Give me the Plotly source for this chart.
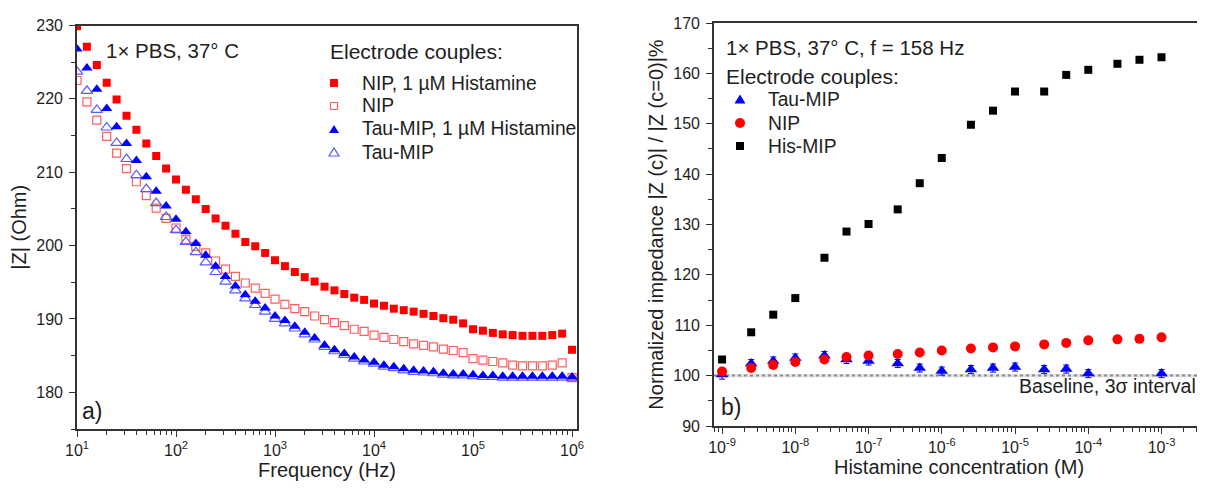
import plotly.graph_objects as go

# ---------------- data: panel a) ----------------
freq_hz = [10, 12.59, 15.85, 19.95, 25.12, 31.62, 39.81, 50.12, 63.10, 79.43,
           100, 125.9, 158.5, 199.5, 251.2, 316.2, 398.1, 501.2, 631.0, 794.3,
           1000, 1259, 1585, 1995, 2512, 3162, 3981, 5012, 6310, 7943,
           1.0e4, 1.259e4, 1.585e4, 1.995e4, 2.512e4, 3.162e4, 3.981e4, 5.012e4, 6.310e4, 7.943e4,
           1.0e5, 1.259e5, 1.585e5, 1.995e5, 2.512e5, 3.162e5, 3.981e5, 5.012e5, 6.310e5, 7.943e5,
           1.0e6]

nip_histamine = [229.9, 227.1, 224.6, 222.2, 219.9, 217.7, 215.8, 213.9, 212.2, 210.5,
                 209.0, 207.6, 206.3, 205.0, 203.7, 202.7, 201.6, 200.5, 199.9, 199.0,
                 198.0, 197.2, 196.4, 195.7, 195.1, 194.4, 193.9, 193.4, 192.9, 192.6,
                 192.1, 191.8, 191.4, 191.2, 191.0, 190.7, 190.4, 190.1, 189.9, 189.4,
                 188.6, 188.4, 188.1, 187.9, 187.8, 187.7, 187.7, 187.7, 187.8, 188.0,
                 185.8]

nip_blank = [222.5, 219.6, 217.1, 214.9, 212.6, 210.5, 208.7, 206.8, 205.1, 203.7,
             202.4, 200.8, 199.9, 199.0, 197.9, 196.8, 195.8, 194.9, 194.2, 193.5,
             192.7, 192.0, 191.4, 191.0, 190.4, 189.9, 189.5, 189.1, 188.6, 188.3,
             187.8, 187.5, 187.2, 186.9, 186.6, 186.4, 186.2, 185.9, 185.7, 185.4,
             184.6, 184.4, 184.2, 184.0, 183.7, 183.6, 183.6, 183.6, 183.7, 184.0,
             182.0]

tau_histamine = [226.8, 224.2, 221.3, 218.7, 216.2, 213.9, 211.6, 209.4, 207.4, 205.4,
                 203.6, 201.9, 200.3, 198.7, 197.2, 195.8, 194.5, 193.3, 192.4, 191.5,
                 190.4, 189.8, 189.0, 188.2, 187.4, 186.4, 185.8, 185.3, 184.8, 184.4,
                 184.1, 183.7, 183.5, 183.2, 183.0, 182.9, 182.8, 182.6, 182.5, 182.5,
                 182.4, 182.3, 182.3, 182.2, 182.2, 182.2, 182.2, 182.2, 182.2, 182.2,
                 182.1]

tau_blank = [223.7, 221.1, 218.5, 216.1, 214.0, 211.8, 209.6, 207.7, 205.8, 203.9,
             202.1, 200.5, 199.1, 197.7, 196.4, 195.1, 193.9, 192.8, 191.9, 191.0,
             190.0, 189.4, 188.7, 187.9, 187.2, 186.2, 185.6, 185.1, 184.6, 184.2,
             183.9, 183.5, 183.3, 183.0, 182.8, 182.7, 182.6, 182.4, 182.3, 182.3,
             182.2, 182.1, 182.1, 182.0, 182.0, 182.0, 182.0, 182.0, 182.0, 182.0,
             181.9]

# ---------------- data: panel b) ----------------
conc_M = [1e-9, 2.5e-9, 5e-9, 1e-8, 2.5e-8, 5e-8, 1e-7, 2.5e-7, 5e-7, 1e-6,
          2.5e-6, 5e-6, 1e-5, 2.5e-5, 5e-5, 1e-4, 2.5e-4, 5e-4, 1e-3]
his_mip = [103.2, 108.6, 112.1, 115.4, 123.4, 128.6, 130.1, 133.0, 138.2, 143.2,
           149.8, 152.6, 156.4, 156.4, 159.7, 160.7, 161.9, 162.7, 163.2]
nip_norm = [100.8, 101.5, 102.1, 102.7, 103.2, 103.7, 104.0, 104.3, 104.6, 105.0,
            105.4, 105.6, 105.8, 106.2, 106.5, 107.0, 107.2, 107.3, 107.6]
conc_tau = [1e-9, 2.5e-9, 5e-9, 1e-8, 2.5e-8, 5e-8, 1e-7, 2.5e-7, 5e-7, 1e-6,
            2.5e-6, 5e-6, 1e-5, 2.5e-5, 5e-5, 1e-4, 1e-3]
tau_norm = [100.2, 102.4, 102.9, 103.5, 104.0, 103.2, 102.9, 102.4, 101.5, 100.9,
            101.2, 101.5, 101.7, 101.2, 101.3, 100.4, 100.4]
tau_err = [0.9, 0.8, 0.8, 0.8, 0.8, 0.8, 0.8, 0.8, 0.8, 0.8,
           0.8, 0.8, 0.8, 0.8, 0.8, 0.8, 0.8]

baseline_lo, baseline_hi = 99.7, 100.3

left_xticks = [1e1, 1e2, 1e3, 1e4, 1e5, 1e6]
left_xtext = ["10<sup>1</sup>", "10<sup>2</sup>", "10<sup>3</sup>",
              "10<sup>4</sup>", "10<sup>5</sup>", "10<sup>6</sup>"]
right_xticks = [1e-9, 1e-8, 1e-7, 1e-6, 1e-5, 1e-4, 1e-3]
right_xtext = ["10<sup>-9</sup>", "10<sup>-8</sup>", "10<sup>-7</sup>", "10<sup>-6</sup>",
               "10<sup>-5</sup>", "10<sup>-4</sup>", "10<sup>-3</sup>"]

# ---------------- styling ----------------
FONT = "Liberation Sans, Arial, sans-serif"
TXT = "#1e1e1e"
AX = "#333333"
RED = "#ff0000"
PINK = "#ff5f5f"
BLUE = "#0000ff"
LBLUE = "#5a5aff"
W, H = 1205, 490
OFF = 8  # page body margin of the written html


def px(x):
    return (x - OFF) / W


def py(y):
    return 1 - (y - OFF) / H


left_minor = [m * 10 ** d for d in range(1, 6) for m in range(2, 10)]
right_minor = [m * 10.0 ** d for d in range(-10, -2) for m in range(2, 10)]

fig = go.Figure()

# panel a traces (draw order chosen so filled markers sit on top)
fig.add_trace(go.Scatter(x=freq_hz, y=nip_blank, mode="markers", name="NIP",
                         marker=dict(symbol="square-open", size=8, color=PINK,
                                     line=dict(width=1.2, color=PINK)),
                         xaxis="x", yaxis="y"))
fig.add_trace(go.Scatter(x=freq_hz, y=tau_blank, mode="markers", name="Tau-MIP",
                         marker=dict(symbol="triangle-up-open", size=10, color=LBLUE,
                                     line=dict(width=1.2, color=LBLUE)),
                         xaxis="x", yaxis="y"))
fig.add_trace(go.Scatter(x=freq_hz, y=nip_histamine, mode="markers",
                         name="NIP, 1 \u00b5M Histamine",
                         marker=dict(symbol="square", size=8, color=RED, line=dict(width=0)),
                         xaxis="x", yaxis="y"))
fig.add_trace(go.Scatter(x=freq_hz, y=tau_histamine, mode="markers",
                         name="Tau-MIP, 1 \u00b5M Histamine",
                         marker=dict(symbol="triangle-up", size=10, color=BLUE, line=dict(width=0)),
                         xaxis="x", yaxis="y"))

# panel b traces
fig.add_trace(go.Scatter(x=conc_tau, y=tau_norm, mode="markers", name="Tau-MIP",
                         error_y=dict(type="data", array=tau_err, color=BLUE, thickness=1, width=3),
                         marker=dict(symbol="triangle-up", size=11, color=BLUE, line=dict(width=0)),
                         xaxis="x2", yaxis="y2"))
fig.add_trace(go.Scatter(x=conc_M, y=nip_norm, mode="markers", name="NIP",
                         marker=dict(symbol="circle", size=10, color=RED, line=dict(width=0)),
                         xaxis="x2", yaxis="y2"))
fig.add_trace(go.Scatter(x=conc_M, y=his_mip, mode="markers", name="His-MIP",
                         marker=dict(symbol="square", size=8, color="black", line=dict(width=0)),
                         xaxis="x2", yaxis="y2"))


def base_axis(**kw):
    d = dict(showgrid=False, zeroline=False, showline=True, linecolor=AX, linewidth=1.6,
             mirror=True, ticks="outside", ticklen=6, tickwidth=1.4, tickcolor=AX,
             automargin=False,
             tickfont=dict(family=FONT, size=16, color=TXT))
    d.update(kw)
    return d


def overlay_axis(**kw):
    d = dict(showgrid=False, zeroline=False, showline=False, showticklabels=False,
             ticks="inside", ticklen=6, tickwidth=1.4, tickcolor=AX, automargin=False)
    d.update(kw)
    return d


L_DOM_X = [px(77), px(577)]
L_DOM_Y = [py(429), py(25.5)]
R_DOM_X = [px(714), px(1204)]
R_DOM_Y = [py(426), py(23)]
L_XR = [1, 6.05]
R_XR = [-9.11, -2.42]
TITLE_FONT = dict(family=FONT, size=20, color=TXT)

fig.update_layout(
    width=W, height=H,
    margin=dict(l=0, r=0, t=0, b=0, pad=0, autoexpand=False),
    paper_bgcolor="white", plot_bgcolor="white",
    font=dict(family=FONT, size=16, color=TXT),
    showlegend=False,
    xaxis=base_axis(type="log", range=L_XR, domain=L_DOM_X, anchor="y",
                    tickmode="array", tickvals=left_xticks, ticktext=left_xtext,
                    minor=dict(tickmode="array", tickvals=left_minor, ticks="outside",
                               ticklen=4, tickwidth=1.2, tickcolor=AX),
                    title=dict(text="Frequency (Hz)", font=TITLE_FONT, standoff=4)),
    yaxis=base_axis(range=[175, 230], domain=L_DOM_Y, anchor="x", dtick=10, tick0=0,
                    minor=dict(dtick=5, ticks="outside", ticklen=4, tickwidth=1.2, tickcolor=AX),
                    ticklabelstandoff=3,
                    title=dict(text="|Z| (Ohm)", font=TITLE_FONT, standoff=7)),
    xaxis3=overlay_axis(type="log", range=L_XR, overlaying="x", anchor="y", side="top",
                        tickmode="array", tickvals=left_xticks,
                        minor=dict(tickmode="array", tickvals=left_minor, ticks="inside",
                                   ticklen=4, tickwidth=1.2, tickcolor=AX)),
    yaxis3=overlay_axis(range=[175, 230], overlaying="y", anchor="x", side="right",
                        dtick=10, tick0=0,
                        minor=dict(dtick=5, ticks="inside", ticklen=4, tickwidth=1.2, tickcolor=AX)),
    xaxis2=base_axis(type="log", range=R_XR, domain=R_DOM_X, anchor="y2",
                     tickmode="array", tickvals=right_xticks, ticktext=right_xtext,
                     minor=dict(tickmode="array", tickvals=right_minor, ticks="outside",
                                ticklen=4, tickwidth=1.2, tickcolor=AX),
                     title=dict(text="Histamine concentration (M)", font=TITLE_FONT, standoff=4)),
    yaxis2=base_axis(range=[90, 170], domain=R_DOM_Y, anchor="x2", dtick=10, tick0=0,
                     minor=dict(dtick=5, ticks="outside", ticklen=4, tickwidth=1.2, tickcolor=AX),
                     ticklabelstandoff=3,
                     title=dict(text="Normalized impedance |Z (c)| / |Z (c=0)|%",
                                font=TITLE_FONT, standoff=4)),
    xaxis4=overlay_axis(type="log", range=R_XR, overlaying="x2", anchor="y2", side="top",
                        tickmode="array", tickvals=right_xticks,
                        minor=dict(tickmode="array", tickvals=right_minor, ticks="inside",
                                   ticklen=4, tickwidth=1.2, tickcolor=AX)),
    yaxis4=overlay_axis(range=[90, 170], overlaying="y2", anchor="x2", side="right",
                        dtick=10, tick0=0,
                        minor=dict(dtick=5, ticks="inside", ticklen=4, tickwidth=1.2, tickcolor=AX)),
)

# baseline band (3 sigma) in panel b
fig.add_shape(type="rect", xref="x2 domain", yref="y2", x0=0, x1=1,
              y0=baseline_lo, y1=baseline_hi, fillcolor="rgba(170,170,170,0.35)",
              line=dict(width=0), layer="below")
fig.add_shape(type="line", xref="x2 domain", yref="y2", x0=0, x1=1,
              y0=(baseline_lo + baseline_hi) / 2, y1=(baseline_lo + baseline_hi) / 2,
              line=dict(color="#8c8c8c", width=2, dash="dot"), layer="below")


def note(text, x, y, size=20.5, anchor="left"):
    fig.add_annotation(text=text, xref="paper", yref="paper", x=px(x), y=py(y),
                       xanchor=anchor, yanchor="middle", showarrow=False,
                       font=dict(family=FONT, size=size, color=TXT))


# legend swatches (drawn in paper space, like a legend key)
def key_square(cx, cy, s, color, filled):
    fig.add_shape(type="rect", xref="paper", yref="paper",
                  x0=px(cx - s / 2), x1=px(cx + s / 2), y0=py(cy + s / 2), y1=py(cy - s / 2),
                  fillcolor=color if filled else "white",
                  line=dict(color=color, width=0 if filled else 1.2))


def key_triangle(cx, cy, w, h, color, filled):
    path = "M {:.5f},{:.5f} L {:.5f},{:.5f} L {:.5f},{:.5f} Z".format(
        px(cx - w / 2), py(cy + h / 2), px(cx + w / 2), py(cy + h / 2), px(cx), py(cy - h / 2))
    fig.add_shape(type="path", xref="paper", yref="paper", path=path,
                  fillcolor=color if filled else "white",
                  line=dict(color=color, width=0 if filled else 1.2))


def key_circle(cx, cy, d, color):
    fig.add_shape(type="circle", xref="paper", yref="paper",
                  x0=px(cx - d / 2), x1=px(cx + d / 2), y0=py(cy + d / 2), y1=py(cy - d / 2),
                  fillcolor=color, line=dict(width=0))


# panel a legend
note("1\u00d7 PBS, 37\u00b0 C", 104, 50)
note("Electrode couples:", 328, 52, size=21)
left_items = [("NIP, 1 \u00b5M Histamine", 83), ("NIP", 106),
              ("Tau-MIP, 1 \u00b5M Histamine", 129), ("Tau-MIP", 152)]
key_square(334, 83, 8, RED, True)
key_square(334, 106, 7, PINK, False)
key_triangle(334, 129, 10, 8, BLUE, True)
key_triangle(334, 152, 10, 8, LBLUE, False)
for label, yy in left_items:
    note(label, 360, yy, size=19.3)

# panel b legend
note("1\u00d7 PBS, 37\u00b0 C, f = 158 Hz", 724, 48)
note("Electrode couples:", 724, 76, size=21)
right_items = [("Tau-MIP", 99), ("NIP", 123), ("His-MIP", 146)]
key_triangle(740, 99, 11, 9, BLUE, True)
key_circle(740, 123, 10, RED)
key_square(740, 146, 8, "black", True)
for label, yy in right_items:
    note(label, 766, yy, size=19.3)

note("Baseline, 3\u03c3 interval", 1017, 386, size=19.5)
note("a)", 80, 411, size=23)
note("b)", 719, 407, size=23)

fig.write_html("out.html")
